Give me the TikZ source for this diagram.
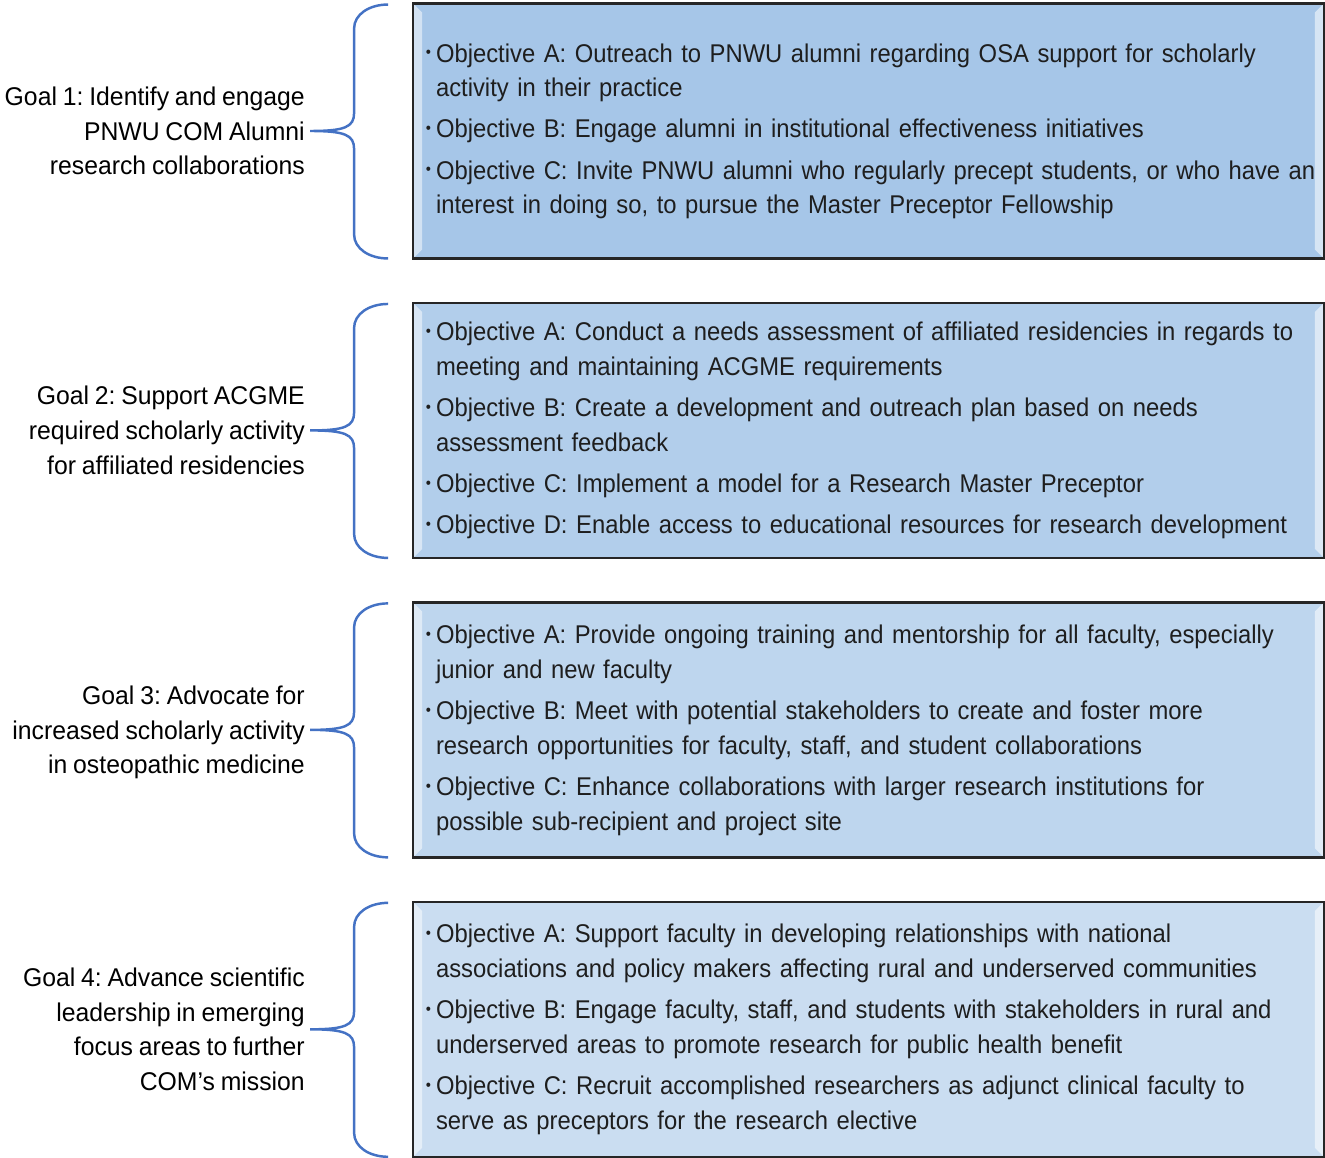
\documentclass[tikz,border=0pt]{standalone}
\usepackage{fontspec}
\setmainfont{Liberation Sans}[FakeStretch=0.928, WordSpace=0.85]
\newfontfamily\goalfont{Liberation Sans}[FakeStretch=0.965, WordSpace=0.85]
\usetikzlibrary{calc,positioning}
\definecolor{boxa}{HTML}{A6C6E8}
\definecolor{boxb}{HTML}{B2CEEB}
\definecolor{boxc}{HTML}{BED6EE}
\definecolor{boxd}{HTML}{CADDF1}
\definecolor{boxline}{HTML}{262626}
\definecolor{bracecol}{HTML}{4472C4}
\definecolor{objtext}{HTML}{1E1E1E}
\frenchspacing

\begin{document}
\begin{tikzpicture}[x=0.02cm,y=-0.02cm]
\tikzset{
  goal/.style   = {align=right, inner sep=0pt,
                   font=\goalfont\fontsize{14.6}{19.8}\selectfont},
  objbox/.style = {draw=boxline, line width=1.4pt, outer sep=0pt,
                   minimum width=18.22cm, minimum height=5.1cm,
                   inner xsep=0.22cm, inner ysep=0pt,
                   text width=17.78cm, align=left, text=objtext,
                   font=\fontsize{14.6}{19.8}\selectfont,
                   path picture={
                     \fill[white,opacity=.5]
                       (path picture bounding box.north west) -- (path picture bounding box.south west)
                       -- ($(path picture bounding box.south west)+(9,-9)$)
                       -- ($(path picture bounding box.north west)+(9,9)$) -- cycle;
                     \fill[white,opacity=.55]
                       (path picture bounding box.north east) -- (path picture bounding box.south east)
                       -- ($(path picture bounding box.south east)+(-9,-9)$)
                       -- ($(path picture bounding box.north east)+(-9,9)$) -- cycle;}},
  brace/.style  = {draw=bracecol, line width=1.4pt}
}
\newcommand{\bul}{\makebox[6.8pt][l]{\hspace{1pt}\raisebox{2.4pt}{\fontsize{9}{9}\selectfont\textbullet}}}
\newcommand{\goalbrace}[1]{%
  \draw[brace] ($(#1.north west)+(-25,1)$) .. controls +(-19,0) and +(0,-14) .. ($(#1.north west)+(-59,25)$)
    -- ($(#1.west)+(-59,-18)$) .. controls +(0,14) and +(35,0) .. ($(#1.west)+(-103,0)$)
    .. controls +(35,0) and +(0,-14) .. ($(#1.west)+(-59,18)$)
    -- ($(#1.south west)+(-59,-24)$) .. controls +(0,14) and +(-19,0) .. ($(#1.south west)+(-25,0)$);}
\useasboundingbox (0,0) rectangle (1325,1158);

  \node[objbox, fill=boxa] (o1) at (868.5,131) {%
    \begin{tabular}{@{}l@{}l@{}}
    \bul & Objective A: Outreach to PNWU alumni regarding OSA support for scholarly\\
         & activity in their practice\\[3.6pt]
    \bul & Objective B: Engage alumni in institutional effectiveness initiatives\\[3.6pt]
    \bul & Objective C: Invite PNWU alumni who regularly precept students, or who have an\\
         & interest in doing so, to pursue the Master Preceptor Fellowship
    \end{tabular}};
  \node[objbox, fill=boxb, below=0.89cm of o1] (o2) {%
    \begin{tabular}{@{}l@{}l@{}}
    \bul & Objective A: Conduct a needs assessment of affiliated residencies in regards to\\
         & meeting and maintaining ACGME requirements\\[3.6pt]
    \bul & Objective B: Create a development and outreach plan based on needs\\
         & assessment feedback\\[3.6pt]
    \bul & Objective C: Implement a model for a Research Master Preceptor\\[3.6pt]
    \bul & Objective D: Enable access to educational resources for research development
    \end{tabular}};
  \node[objbox, fill=boxc, below=0.89cm of o2] (o3) {%
    \begin{tabular}{@{}l@{}l@{}}
    \bul & Objective A: Provide ongoing training and mentorship for all faculty, especially\\
         & junior and new faculty\\[3.6pt]
    \bul & Objective B: Meet with potential stakeholders to create and foster more\\
         & research opportunities for faculty, staff, and student collaborations\\[3.6pt]
    \bul & Objective C: Enhance collaborations with larger research institutions for\\
         & possible sub-recipient and project site
    \end{tabular}};
  \node[objbox, fill=boxd, below=0.89cm of o3] (o4) {%
    \begin{tabular}{@{}l@{}l@{}}
    \bul & Objective A: Support faculty in developing relationships with national\\
         & associations and policy makers affecting rural and underserved communities\\[3.6pt]
    \bul & Objective B: Engage faculty, staff, and students with stakeholders in rural and\\
         & underserved areas to promote research for public health benefit\\[3.6pt]
    \bul & Objective C: Recruit accomplished researchers as adjunct clinical faculty to\\
         & serve as preceptors for the research elective
    \end{tabular}};

  \node[goal, left=2.16cm of o1] (g1) {Goal 1: Identify and engage\\PNWU COM Alumni\\research collaborations};
  \node[goal, left=2.16cm of o2] (g2) {Goal 2: Support ACGME\\required scholarly activity\\for affiliated residencies};
  \node[goal, left=2.16cm of o3, yshift=-0.05cm] (g3) {Goal 3: Advocate for\\increased scholarly activity\\in osteopathic medicine};
  \node[goal, left=2.16cm of o4] (g4) {Goal 4: Advance scientific\\leadership in emerging\\focus areas to further\\COM’s mission};

  \foreach \b in {o1,o2,o3,o4} {\goalbrace{\b}}
\end{tikzpicture}
\end{document}
